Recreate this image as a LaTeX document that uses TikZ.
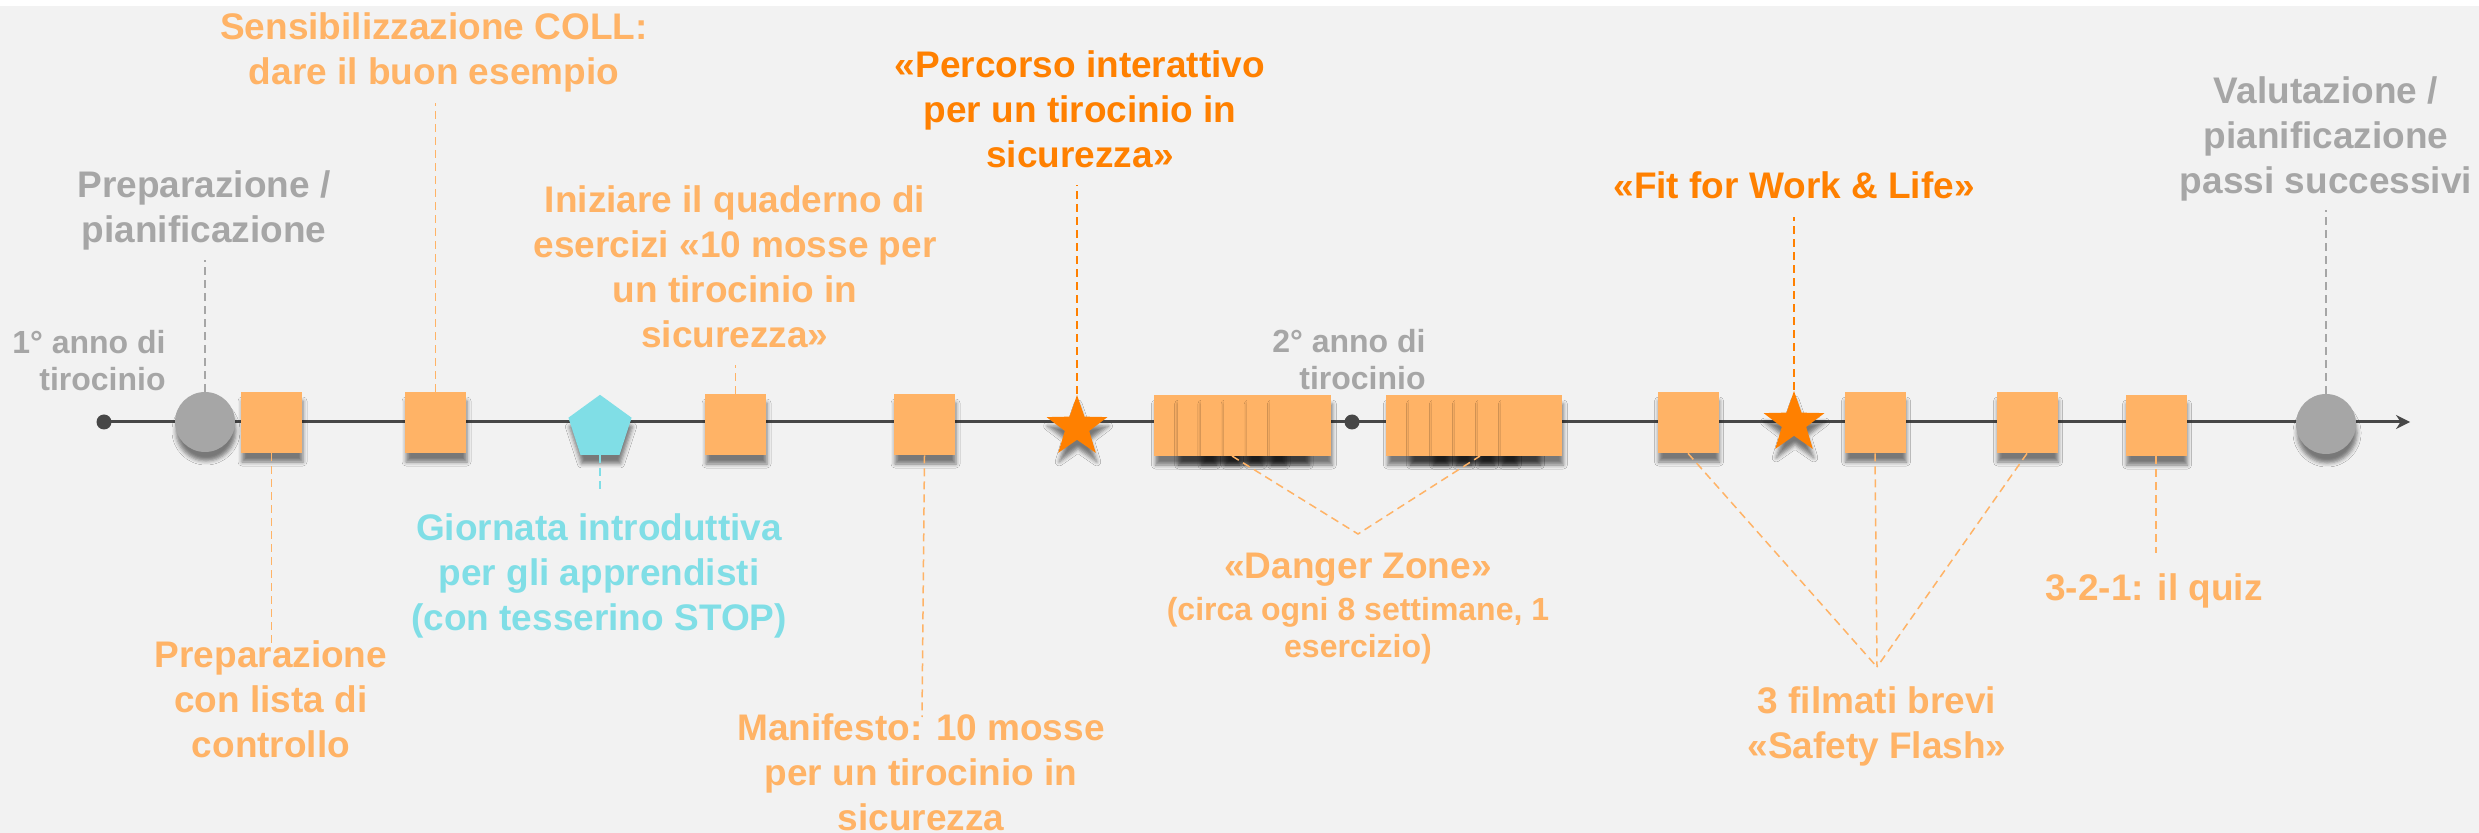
\documentclass[tikz,border=0pt]{standalone}
\usepackage{fontspec}
\setmainfont{Liberation Sans}
\usetikzlibrary{shapes.geometric,shadows.blur,arrows.meta}
\definecolor{bg}{HTML}{F2F2F2}
\definecolor{lor}{HTML}{FFB366}
\definecolor{dor}{HTML}{FF8000}
\definecolor{cy}{HTML}{80DEE6}
\definecolor{gr}{HTML}{A6A6A6}
\definecolor{ln}{HTML}{474747}
\newcommand\lstrut{\rule{0pt}{0.8em}}
\begin{document}
\begin{tikzpicture}[x=0.5pt,y=-0.5pt,
  shd/.style={blur shadow={shadow xshift=0.5pt,shadow yshift=-4.5pt,shadow blur radius=2pt,shadow opacity=50}},
  sq/.style={shd,rectangle,fill=lor,minimum size=30.5pt,inner sep=0pt},
  dzsq/.style={shd,rectangle,fill=lor,minimum size=30.5pt,inner sep=0pt,anchor=west},
  gcirc/.style={shd,circle,fill=gr,minimum size=30pt,inner sep=0pt},
  tdot/.style={circle,fill=ln,minimum size=7.5pt,inner sep=0pt},
  pent/.style={shd,regular polygon,regular polygon sides=5,fill=cy,minimum size=33.2pt,inner sep=0pt},
  starshape/.style={shd,star,star points=5,star point ratio=2.5,fill=dor,minimum size=32pt,inner sep=0pt},
  lbl/.style={anchor=north,inner sep=0pt,align=center,font=\fontsize{18.5pt}{22.5pt}\selectfont\bfseries},
  lbls/.style={anchor=north,inner sep=0pt,align=center,font=\fontsize{16pt}{18.5pt}\selectfont\bfseries},
  conn/.style={dash pattern=on 4pt off 2.5pt,line width=0.75pt},
  tline/.style={line width=1.5pt,draw=ln}
]
% background
\fill[white] (0,0) rectangle (2479,833);
\fill[bg] (0,6) rectangle (2479,833);
\useasboundingbox (0,0) rectangle (2479,833);

% timeline
\node[tdot] (d0) at (104,422) {};
\coordinate (tip) at (2410,422);
\draw[tline,-{Stealth[length=7pt,width=7pt]}] (d0.center) -- (tip);
\node[tdot] (d1) at (1352,422) {};

% markers
\node[gcirc] (gc1) at (205,422) {};
\node[sq] (sq1) at (271.5,422.5) {};
\node[sq] (sq2) at (435.5,422.5) {};
\node[pent] (pt) at (600,428) {};
\node[sq] (sq3) at (735.5,424.5) {};
\node[sq] (sq4) at (924.5,424.5) {};
\node[starshape] (st1) at (1077,427) {};

% danger zone blocks (each square drawn over the previous one)
\foreach \i/\x in {1/1154,2/1177.2,3/1200.4,4/1223.6,5/1246.8,6/1270}{
  \node[dzsq] (dzA\i) at (\x,425.5) {};
}
\foreach \i/\x in {1/1386,2/1409,3/1432,4/1455,5/1478,6/1501}{
  \node[dzsq] (dzB\i) at (\x,425.5) {};
}

\node[sq] (sqA) at (1688,422.5) {};
\node[starshape] (st2) at (1794,423) {};
\node[sq] (sqB) at (1875,422.5) {};
\node[sq] (sqC) at (2027,422.5) {};
\node[sq] (sqD) at (2156,425.5) {};
\node[gcirc] (gc2) at (2326,424) {};

% labels above
\node[lbl,text=lor] (tSens) at (434,9.4) {\lstrut Sensibilizzazione COLL:\\dare il buon esempio};
\node[lbl,text=gr] (tPrep) at (204,167.4) {\lstrut Preparazione /\\pianificazione};
\node[lbl,text=lor] (tIniz) at (735,182.4) {\lstrut Iniziare il quaderno di\\esercizi «10 mosse per\\un tirocinio in\\sicurezza»};
\node[lbl,text=dor] (tPerc) at (1080,47.4) {\lstrut «Percorso interattivo\\per un tirocinio in\\sicurezza»};
\node[lbls,text=gr,anchor=north east,align=right] (tAnno1) at (166,327.4) {\lstrut 1° anno di\\tirocinio};
\node[lbls,text=gr,anchor=north east,align=right] (tAnno2) at (1426,326.4) {\lstrut 2° anno di\\tirocinio};
\node[lbl,text=dor] (tFit) at (1794,168.4) {\lstrut «Fit for Work \& Life»};
\node[lbl,text=gr] (tVal) at (2326,73.4) {\lstrut Valutazione /\\pianificazione\\passi successivi};

% labels below
\node[lbl,text=cy] (tGior) at (599,510.4) {\lstrut Giornata introduttiva\\per gli apprendisti\\(con tesserino STOP)};
\node[lbl,text=lor] (tLista) at (271,637.4) {\lstrut Preparazione\\con lista di\\controllo};
\node[lbl,text=lor] (tMani) at (921,710.4) {\lstrut Manifesto: 10 mosse\\per un tirocinio in\\sicurezza};
\node[lbl,text=lor] (tDZ) at (1358,548.4) {\lstrut «Danger Zone»};
\node[lbls,text=lor] (tDZs) at (1358,594.4) {\lstrut (circa ogni 8 settimane, 1\\esercizio)};
\node[lbl,text=lor] (tSF) at (1877,683.4) {\lstrut 3 filmati brevi\\«Safety Flash»};
\node[lbl,text=lor] (tQuiz) at (2154,570.4) {\lstrut 3-2-1: il quiz};

% connector end points
\coordinate (eGc1) at (205,260);
\coordinate (eSq1) at (271.5,643);
\coordinate (eSq2) at (435.5,103);
\coordinate (ePt) at (600,493);
\coordinate (eSq3) at (735.5,365);
\coordinate (eSq4) at (922,717);
\coordinate (eSt1) at (1077,185);
\coordinate (dzapex) at (1358,534);
\coordinate (dzs1) at (1232,456);
\coordinate (dzs2) at (1480,456);
\coordinate (eSt2) at (1794,217);
\coordinate (eGc2) at (2326,210);
\coordinate (sfapex) at (1877,667);
\coordinate (eSqD) at (2156,553);

% connectors
\draw[conn,gr] (gc1.north) -- (eGc1);
\draw[conn,lor] (sq1.south) -- (eSq1);
\draw[conn,lor] (sq2.north) -- (eSq2);
\draw[conn,cy] (pt.south) -- (ePt);
\draw[conn,lor] (sq3.north) -- (eSq3);
\draw[conn,lor] (sq4.south) -- (eSq4);
\draw[conn,dor] (st1.north) -- (eSt1);
\draw[conn,lor] (dzs1) -- (dzapex) -- (dzs2);
\draw[conn,dor] (st2.north) -- (eSt2);
\draw[conn,gr] (gc2.north) -- (eGc2);
\draw[conn,lor] (sqA.south) -- (sfapex);
\draw[conn,lor] (sqB.south) -- (sfapex);
\draw[conn,lor] (sqC.south) -- (sfapex);
\draw[conn,lor] (sqD.south) -- (eSqD);
\end{tikzpicture}
\end{document}
